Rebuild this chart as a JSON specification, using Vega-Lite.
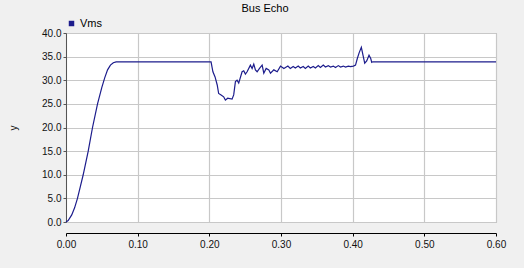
{
  "$schema": "https://vega.github.io/schema/vega-lite/v6.json",
  "autosize": "none",
  "width": 430,
  "height": 189,
  "padding": {"left": 66, "top": 33, "right": 28, "bottom": 46},
  "background": "#f0f0f0",
  "title": {"text": "Bus Echo", "anchor": "middle", "frame": "group", "dx": -16, "fontSize": 11, "fontWeight": "normal", "font": "Liberation Sans", "color": "#000000"},
  "config": {
    "view": {"fill": "#ffffff", "stroke": "#a8a8a8"},
    "font": "Liberation Sans"
  },
  "data": {"values": [
    {"t": 0, "v": 0}, {"t": 0.003, "v": 0.3}, {"t": 0.008, "v": 1.5}, {"t": 0.012, "v": 3},
    {"t": 0.016, "v": 5}, {"t": 0.020, "v": 7.5}, {"t": 0.024, "v": 10}, {"t": 0.031, "v": 15},
    {"t": 0.037, "v": 20}, {"t": 0.044, "v": 25}, {"t": 0.050, "v": 28.5}, {"t": 0.054, "v": 30.5},
    {"t": 0.058, "v": 32.2}, {"t": 0.062, "v": 33.2}, {"t": 0.066, "v": 33.7}, {"t": 0.070, "v": 33.9},
    {"t": 0.200, "v": 33.9}, {"t": 0.2024, "v": 33.9}, {"t": 0.205, "v": 31.8}, {"t": 0.208, "v": 30.7},
    {"t": 0.211, "v": 29.0}, {"t": 0.213, "v": 27.2}, {"t": 0.2164, "v": 26.9}, {"t": 0.220, "v": 26.5},
    {"t": 0.2224, "v": 25.8}, {"t": 0.2256, "v": 26.2}, {"t": 0.2317, "v": 26.0}, {"t": 0.234, "v": 26.9},
    {"t": 0.2364, "v": 29.7}, {"t": 0.2387, "v": 30.0}, {"t": 0.241, "v": 29.4}, {"t": 0.2457, "v": 31.8},
    {"t": 0.248, "v": 32.0}, {"t": 0.2503, "v": 31.3}, {"t": 0.2527, "v": 31.8}, {"t": 0.2573, "v": 33.2},
    {"t": 0.2597, "v": 32.5}, {"t": 0.262, "v": 33.4}, {"t": 0.2643, "v": 32.2}, {"t": 0.2667, "v": 31.8},
    {"t": 0.270, "v": 32.5}, {"t": 0.2737, "v": 33.2}, {"t": 0.276, "v": 31.5}, {"t": 0.2793, "v": 32.5},
    {"t": 0.283, "v": 32.2}, {"t": 0.2853, "v": 31.5}, {"t": 0.290, "v": 32.2}, {"t": 0.2947, "v": 31.8},
    {"t": 0.2993, "v": 33.0}, {"t": 0.304, "v": 32.5}, {"t": 0.3096, "v": 33.0},
    {"t": 0.313, "v": 32.5}, {"t": 0.317, "v": 32.9}, {"t": 0.320, "v": 32.6}, {"t": 0.324, "v": 33.0},
    {"t": 0.327, "v": 32.6}, {"t": 0.331, "v": 32.9}, {"t": 0.334, "v": 32.5}, {"t": 0.338, "v": 33.0},
    {"t": 0.341, "v": 32.6}, {"t": 0.345, "v": 32.9}, {"t": 0.348, "v": 32.6}, {"t": 0.352, "v": 33.1},
    {"t": 0.355, "v": 32.7}, {"t": 0.359, "v": 33.2}, {"t": 0.362, "v": 32.8}, {"t": 0.366, "v": 33.1},
    {"t": 0.369, "v": 32.8}, {"t": 0.373, "v": 33.0}, {"t": 0.376, "v": 32.7}, {"t": 0.380, "v": 33.1},
    {"t": 0.383, "v": 32.8}, {"t": 0.387, "v": 33.0}, {"t": 0.390, "v": 32.8}, {"t": 0.394, "v": 33.0},
    {"t": 0.397, "v": 32.9}, {"t": 0.401, "v": 33.0}, {"t": 0.404, "v": 33.2}, {"t": 0.4065, "v": 34.6},
    {"t": 0.409, "v": 35.8}, {"t": 0.4121, "v": 36.97}, {"t": 0.4144, "v": 35.3}, {"t": 0.4168, "v": 33.6},
    {"t": 0.4196, "v": 34.1}, {"t": 0.4228, "v": 35.3}, {"t": 0.4252, "v": 34.6}, {"t": 0.4266, "v": 33.8},
    {"t": 0.428, "v": 33.9}, {"t": 0.60, "v": 33.9}
  ]},
  "mark": {"type": "line", "strokeWidth": 1.2, "interpolate": "linear"},
  "encoding": {
    "x": {"field": "t", "type": "quantitative", "scale": {"domain": [0, 0.6], "nice": false, "zero": false},
      "axis": {"title": null, "values": [0, 0.1, 0.2, 0.3, 0.4, 0.5, 0.6], "format": ".2f", "offset": 11,
        "domainColor": "#000000", "tickColor": "#000000", "tickSize": 3, "labelFontSize": 10, "labelColor": "#111111",
        "labelPadding": 3, "gridColor": "#c8c8c8", "gridWidth": 1.2, "labelFlush": false}},
    "y": {"field": "v", "type": "quantitative", "scale": {"domain": [0, 40], "nice": false},
      "axis": {"title": "y", "titleFontSize": 10, "titleFontWeight": "normal", "titleColor": "#111111", "titlePadding": 23,
        "values": [0, 5, 10, 15, 20, 25, 30, 35, 40], "format": ".1f",
        "domainColor": "#555555", "tickColor": "#555555", "tickSize": 3, "labelFontSize": 10, "labelColor": "#111111",
        "labelPadding": 2, "gridColor": "#c8c8c8", "gridWidth": 1.2}},
    "color": {"datum": "Vms", "scale": {"range": ["#1c1c8c"]},
      "legend": {"title": null, "orient": "none", "legendX": 0, "legendY": -15, "symbolType": "square", "symbolSize": 30,
        "symbolFillColor": "#1c1c8c", "symbolStrokeWidth": 0, "labelFontSize": 11, "labelColor": "#000000", "labelOffset": 3}}
  }
}
